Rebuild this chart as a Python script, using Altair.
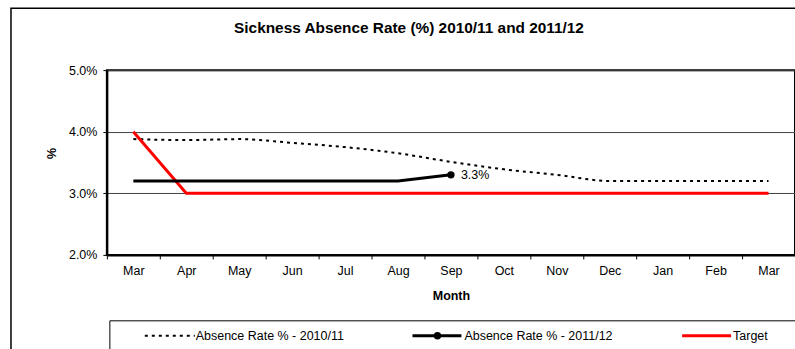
import altair as alt
import pandas as pd

FONT = "Liberation Sans"
FS = 12.5

months = ["Mar", "Apr", "May", "Jun", "Jul", "Aug", "Sep", "Oct", "Nov", "Dec", "Jan", "Feb", "Mar"]
keys = [f"{i:02d} {m}" for i, m in enumerate(months)]

rate_2010_11 = [3.88, 3.865, 3.88, 3.82, 3.75, 3.65, 3.51, 3.39, 3.30, 3.20, 3.20, 3.20, 3.20]
rate_2011_12 = [3.2, 3.2, 3.2, 3.2, 3.2, 3.2, 3.3]
target = [4.0, 3.0, 3.0, 3.0, 3.0, 3.0, 3.0, 3.0, 3.0, 3.0, 3.0, 3.0, 3.0]

series_names = ["Absence Rate % - 2010/11", "Absence Rate % - 2011/12", "Target"]

df_1011 = pd.DataFrame({"key": keys, "value": rate_2010_11})
df_1112 = pd.DataFrame({"key": keys[:len(rate_2011_12)], "value": rate_2011_12})
df_target = pd.DataFrame({"key": keys, "value": target})
df_last = df_1112.tail(1).assign(label=lambda d: d["value"].map(lambda v: f"{v:.1f}%"))

x_enc = alt.X(
    "key:N",
    scale=alt.Scale(type="band", domain=keys, paddingInner=0, paddingOuter=0),
    bandPosition=0.5,
    axis=alt.Axis(
        title="Month",
        labelExpr="slice(datum.label, 3)",
        labelAngle=0,
        tickBand="extent",
        tickSize=4,
        tickColor="black",
        domainColor="black",
        domainWidth=2,
        labelPadding=6,
        labelFont=FONT,
        labelFontSize=FS,
        labelColor="black",
        titleFont=FONT,
        titleFontSize=FS,
        titleFontWeight="bold",
        titleColor="black",
        titlePadding=12,
        grid=False,
    ),
)

y_enc = alt.Y(
    "value:Q",
    scale=alt.Scale(domain=[2, 5], nice=False, zero=False),
    axis=alt.Axis(
        title="%",
        values=[2, 3, 4, 5],
        labelExpr="format(datum.value, '.1f') + '%'",
        tickSize=4,
        tickColor="black",
        domainColor="black",
        domainWidth=2,
        labelPadding=6,
        labelFont=FONT,
        labelFontSize=FS,
        labelColor="black",
        titleFont=FONT,
        titleFontSize=FS,
        titleFontWeight="bold",
        titleColor="black",
        titleX=-55.5,
        titleY=83,
        titleAlign="center",
        titleBaseline="middle",
        grid=True,
        gridColor="#404040",
        gridWidth=1,
    ),
)

line_1011 = alt.Chart(df_1011).mark_line(
    color="black", strokeWidth=2, strokeDash=[3, 4], interpolate="monotone"
).encode(x=x_enc, y=y_enc)

line_target = alt.Chart(df_target).mark_line(color="#ff0000", strokeWidth=3).encode(x=x_enc, y=y_enc)

line_1112 = alt.Chart(df_1112).mark_line(color="black", strokeWidth=3).encode(x=x_enc, y=y_enc)

pt_1112 = alt.Chart(df_last).mark_point(filled=True, color="black", size=55, opacity=1).encode(x=x_enc, y=y_enc)

lbl_1112 = alt.Chart(df_last).mark_text(
    align="left", baseline="middle", dx=10, font=FONT, fontSize=FS, color="black"
).encode(x=x_enc, y=y_enc, text="label:N")

# Outer chart frame and legend box (decoration)
frame = alt.Chart(pd.DataFrame({"a": [0]})).mark_rect(
    fillOpacity=0, stroke="black", strokeWidth=1.5
).encode(x=alt.value(-96), x2=alt.value(800), y=alt.value(-62), y2=alt.value(400))

legend_box = alt.Chart(pd.DataFrame({"a": [0]})).mark_rect(
    fillOpacity=0, stroke="black", strokeWidth=1
).encode(x=alt.value(3), x2=alt.value(800), y=alt.value(251), y2=alt.value(400))

LEG_Y = 266
leg1_line = alt.Chart(pd.DataFrame({"a": [0]})).mark_rule(
    color="black", strokeWidth=2, strokeDash=[3, 4]
).encode(x=alt.value(38), x2=alt.value(88), y=alt.value(LEG_Y))
leg1_text = alt.Chart(pd.DataFrame({"t": [series_names[0]]})).mark_text(
    align="left", baseline="middle", font=FONT, fontSize=FS, color="black"
).encode(x=alt.value(89), y=alt.value(LEG_Y), text="t:N")

leg2_line = alt.Chart(pd.DataFrame({"a": [0]})).mark_rule(
    color="black", strokeWidth=3
).encode(x=alt.value(306), x2=alt.value(355), y=alt.value(LEG_Y))
leg2_dot = alt.Chart(pd.DataFrame({"a": [0]})).mark_point(
    filled=True, color="black", size=55, opacity=1
).encode(x=alt.value(331), y=alt.value(LEG_Y))
leg2_text = alt.Chart(pd.DataFrame({"t": [series_names[1]]})).mark_text(
    align="left", baseline="middle", font=FONT, fontSize=FS, color="black"
).encode(x=alt.value(358), y=alt.value(LEG_Y), text="t:N")

leg3_line = alt.Chart(pd.DataFrame({"a": [0]})).mark_rule(
    color="#ff0000", strokeWidth=3
).encode(x=alt.value(576), x2=alt.value(625), y=alt.value(LEG_Y))
leg3_text = alt.Chart(pd.DataFrame({"t": [series_names[2]]})).mark_text(
    align="left", baseline="middle", font=FONT, fontSize=FS, color="black"
).encode(x=alt.value(627), y=alt.value(LEG_Y), text="t:N")

chart = alt.layer(
    line_1011, line_target, line_1112, pt_1112, lbl_1112,
    frame, legend_box,
    leg1_line, leg1_text, leg2_line, leg2_dot, leg2_text, leg3_line, leg3_text,
).resolve_scale(x="shared", y="shared").properties(
    width=689,
    height=185,
    autosize=alt.AutoSizeParams(type="none"),
    padding={"left": 107, "top": 70, "right": 0, "bottom": 94},
    title=alt.TitleParams(
        "Sickness Absence Rate (%) 2010/11 and 2011/12",
        font=FONT, fontSize=15.4, fontWeight="bold", color="black",
        anchor="middle", frame="group", dx=-42, offset=-35.5, baseline="middle",
    ),
    background="white",
).configure_view(stroke="black", strokeWidth=2)

chart.save("out.html", embed_options={"renderer": "svg", "actions": False})
